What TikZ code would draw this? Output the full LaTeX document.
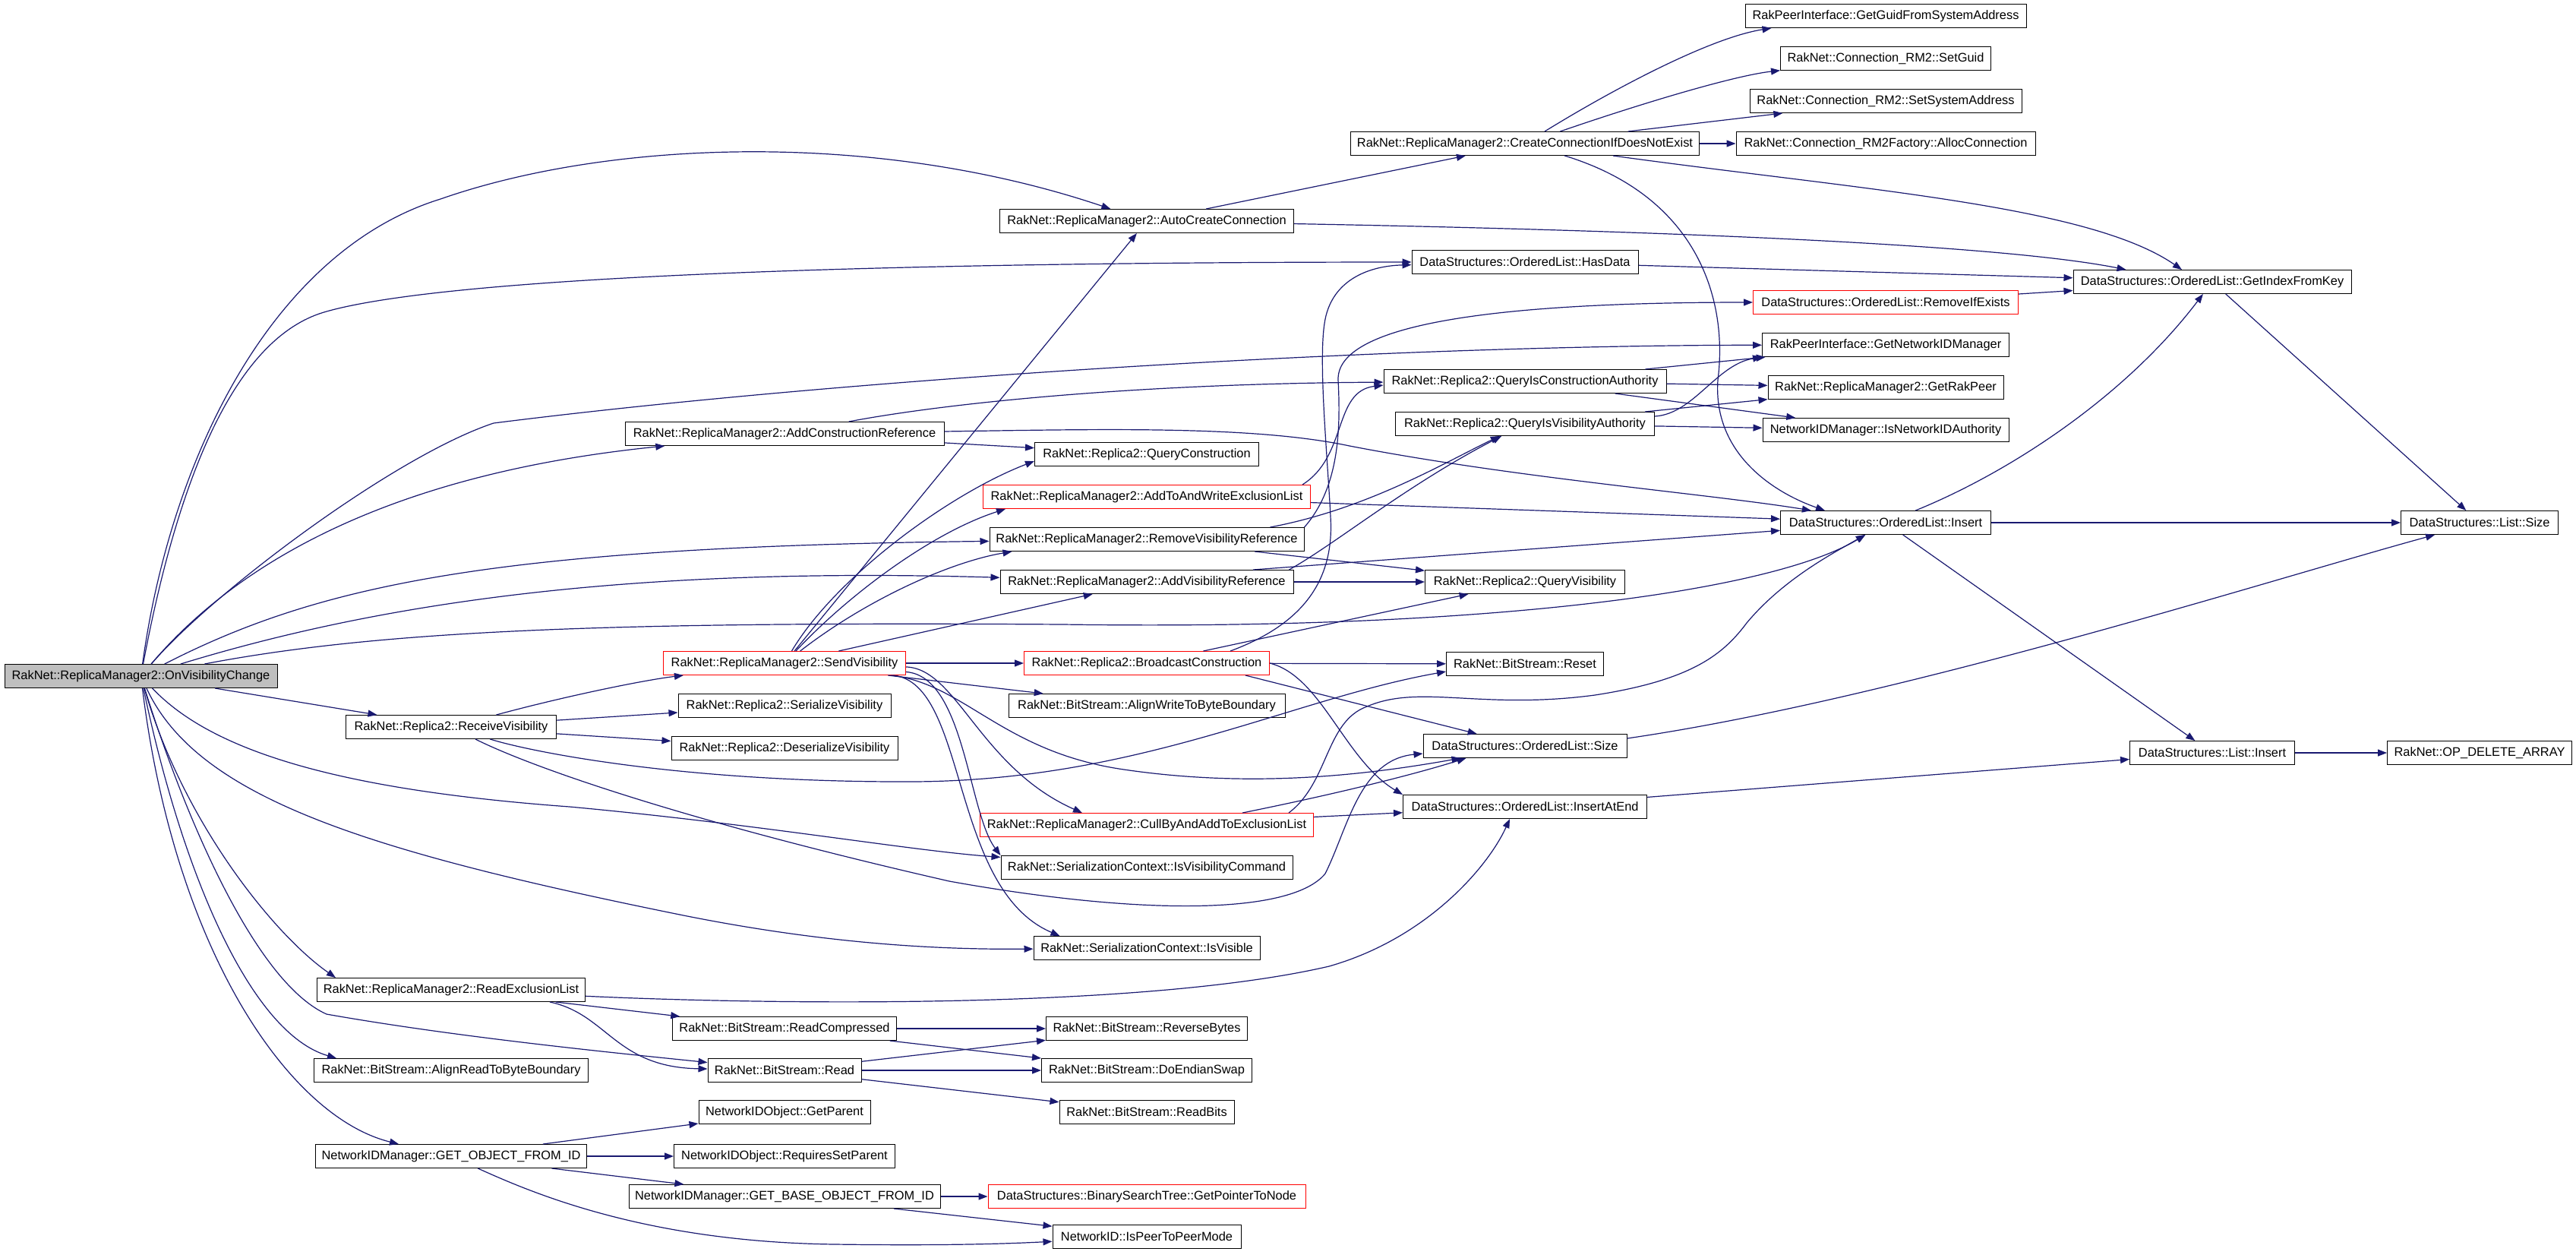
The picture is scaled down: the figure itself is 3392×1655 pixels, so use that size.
\documentclass[tikz,border=0pt]{standalone}
\usepackage{fontspec}
\setmainfont{Liberation Sans}
\usetikzlibrary{arrows.meta,calc}

\definecolor{edgeblue}{HTML}{191970}
\definecolor{rootgrey}{HTML}{BFBFBF}

\tikzset{
    fn/.style={draw=black, fill=white, line width=0.5pt, inner sep=0pt,
        minimum height=15.5pt, font=\fontsize{8.2}{9}\selectfont},
    rootfn/.style={fn, fill=rootgrey},
    cutfn/.style={fn, draw=red},
    call/.style={draw=edgeblue, line width=0.6pt, -{Triangle[length=6pt,width=4.5pt]}}
}

% one box of the call graph: style, name, x, y, width (px), label
\newcommand{\callnode}[6]{
    \node[#1, minimum width=#5*0.5pt] (#2) at (#3,#4) {#6};
}

\begin{document}
\begin{tikzpicture}[x=0.5pt, y=-0.5pt]
    \useasboundingbox (0,0) rectangle (3392,1655);

    % Root
    \callnode{rootfn}{ovc}{185.5}{890}{359}{RakNet::ReplicaManager2::OnVisibilityChange}

    % First column of callees
    \callnode{fn}{recv}{594}{957}{277}{RakNet::Replica2::ReceiveVisibility}
    \callnode{fn}{rexcl}{594}{1303}{353}{RakNet::ReplicaManager2::ReadExclusionList}
    \callnode{fn}{alignread}{594}{1409}{361}{RakNet::BitStream::AlignReadToByteBoundary}
    \callnode{fn}{getobj}{594}{1522}{357}{NetworkIDManager::GET\_OBJECT\_FROM\_ID}

    % Second column
    \callnode{fn}{addcons}{1033}{571}{420}{RakNet::ReplicaManager2::AddConstructionReference}
    \callnode{cutfn}{sendvis}{1033}{873}{319}{RakNet::ReplicaManager2::SendVisibility}
    \callnode{fn}{servis}{1033}{929}{280}{RakNet::Replica2::SerializeVisibility}
    \callnode{fn}{deservis}{1033}{985}{298}{RakNet::Replica2::DeserializeVisibility}
    \callnode{fn}{readcomp}{1033}{1354}{295}{RakNet::BitStream::ReadCompressed}
    \callnode{fn}{read}{1033}{1409}{202}{RakNet::BitStream::Read}
    \callnode{fn}{getparent}{1033}{1464}{226}{NetworkIDObject::GetParent}
    \callnode{fn}{reqparent}{1033}{1522}{291}{NetworkIDObject::RequiresSetParent}
    \callnode{fn}{getbase}{1033}{1575}{410}{NetworkIDManager::GET\_BASE\_OBJECT\_FROM\_ID}

    % Third column
    \callnode{fn}{autocc}{1510}{291}{387}{RakNet::ReplicaManager2::AutoCreateConnection}
    \callnode{fn}{querycons}{1510}{598}{295}{RakNet::Replica2::QueryConstruction}
    \callnode{cutfn}{addtoexcl}{1510}{654}{431}{RakNet::ReplicaManager2::AddToAndWriteExclusionList}
    \callnode{fn}{remvis}{1510}{710}{414}{RakNet::ReplicaManager2::RemoveVisibilityReference}
    \callnode{fn}{addvis}{1510}{766}{386}{RakNet::ReplicaManager2::AddVisibilityReference}
    \callnode{cutfn}{broadcast}{1510}{873}{323}{RakNet::Replica2::BroadcastConstruction}
    \callnode{fn}{alignwrite}{1510}{929}{364}{RakNet::BitStream::AlignWriteToByteBoundary}
    \callnode{cutfn}{cullby}{1510}{1086}{439}{RakNet::ReplicaManager2::CullByAndAddToExclusionList}
    \callnode{fn}{isviscmd}{1510}{1142}{384}{RakNet::SerializationContext::IsVisibilityCommand}
    \callnode{fn}{isvisible}{1510}{1248}{298}{RakNet::SerializationContext::IsVisible}
    \callnode{fn}{revbytes}{1510}{1354}{265}{RakNet::BitStream::ReverseBytes}
    \callnode{fn}{endian}{1510}{1409}{277}{RakNet::BitStream::DoEndianSwap}
    \callnode{fn}{readbits}{1510}{1464}{230}{RakNet::BitStream::ReadBits}
    \callnode{cutfn}{getptr}{1510}{1575}{418}{DataStructures::BinarySearchTree::GetPointerToNode}
    \callnode{fn}{ptop}{1510}{1628}{248}{NetworkID::IsPeerToPeerMode}

    % Fourth column
    \callnode{fn}{createconn}{2008}{189}{459}{RakNet::ReplicaManager2::CreateConnectionIfDoesNotExist}
    \callnode{fn}{hasdata}{2008}{345}{298}{DataStructures::OrderedList::HasData}
    \callnode{fn}{qica}{2008}{502}{372}{RakNet::Replica2::QueryIsConstructionAuthority}
    \callnode{fn}{qiva}{2008}{558}{341}{RakNet::Replica2::QueryIsVisibilityAuthority}
    \callnode{fn}{queryvis}{2008}{766}{263}{RakNet::Replica2::QueryVisibility}
    \callnode{fn}{reset}{2008}{874}{207}{RakNet::BitStream::Reset}
    \callnode{fn}{olsize}{2008}{982}{268}{DataStructures::OrderedList::Size}
    \callnode{fn}{insertend}{2008}{1062}{321}{DataStructures::OrderedList::InsertAtEnd}

    % Fifth column
    \callnode{fn}{getguid}{2483}{21}{370}{RakPeerInterface::GetGuidFromSystemAddress}
    \callnode{fn}{setguid}{2483}{77}{277}{RakNet::Connection\_RM2::SetGuid}
    \callnode{fn}{setsys}{2483}{133}{358}{RakNet::Connection\_RM2::SetSystemAddress}
    \callnode{fn}{alloc}{2483}{189}{394}{RakNet::Connection\_RM2Factory::AllocConnection}
    \callnode{cutfn}{remifex}{2483}{398}{349}{DataStructures::OrderedList::RemoveIfExists}
    \callnode{fn}{getnidm}{2483}{454}{325}{RakPeerInterface::GetNetworkIDManager}
    \callnode{fn}{getrakpeer}{2483}{510}{310}{RakNet::ReplicaManager2::GetRakPeer}
    \callnode{fn}{isnidauth}{2483}{566}{324}{NetworkIDManager::IsNetworkIDAuthority}
    \callnode{fn}{olinsert}{2483}{688}{277}{DataStructures::OrderedList::Insert}

    % Last columns
    \callnode{fn}{getindex}{2913}{371}{366}{DataStructures::OrderedList::GetIndexFromKey}
    \callnode{fn}{linsert}{2913}{991}{217}{DataStructures::List::Insert}
    \callnode{fn}{lsize}{3265}{688}{207}{DataStructures::List::Size}
    \callnode{fn}{opdel}{3265}{991}{243}{RakNet::OP\_DELETE\_ARRAY}

    % Calls made by OnVisibilityChange
    \draw[call] (ovc) .. controls (225,600) and (360,330) .. (580,262) .. controls (800,185) and (1150,170) .. (autocc);
    \draw[call] (ovc) .. controls (240,600) and (320,440) .. (430,410) .. controls (600,362) and (1200,345) .. (hasdata);
    \draw[call] (ovc) .. controls (280,780) and (520,600) .. (650,557) .. controls (1100,500) and (1800,455) .. (getnidm);
    \draw[call] (ovc) .. controls (330,720) and (550,620) .. (addcons);
    \draw[call] (ovc) .. controls (420,770) and (650,720) .. (remvis);
    \draw[call] (ovc) .. controls (480,800) and (800,745) .. (addvis);
    \draw[call] (ovc) .. controls (500,830) and (800,818) .. (1400,822) .. controls (1950,830) and (2330,780) .. (olinsert);
    \draw[call] (ovc) -- (recv);
    \draw[call] (ovc) .. controls (280,990) and (450,1040) .. (750,1062) .. controls (1000,1085) and (1200,1120) .. (isviscmd);
    \draw[call] (ovc) .. controls (260,1050) and (480,1120) .. (900,1205) .. controls (1100,1245) and (1250,1250) .. (isvisible);
    \draw[call] (ovc) .. controls (240,1080) and (360,1230) .. ($(rexcl.north west)+(25,0)$);
    \draw[call] (ovc) .. controls (235,1050) and (330,1290) .. (430,1335) .. controls (600,1365) and (800,1385) .. (read);
    \draw[call] (ovc) .. controls (240,1150) and (330,1360) .. ($(alignread.north west)+(30,0)$);
    \draw[call] (ovc) .. controls (230,1250) and (380,1470) .. ($(getobj.north west)+(110,0)$);

    % First column calls
    \draw[call] (recv) .. controls (750,915) and (850,895) .. (sendvis);
    \draw[call] (recv) -- (servis);
    \draw[call] (recv) -- (deservis);
    \draw[call] (recv) .. controls (700,990) and (900,1030) .. (1200,1029) .. controls (1500,1028) and (1700,920) .. ($(reset.west)+(0,10)$);
    \draw[call] (recv) .. controls (700,1010) and (900,1080) .. (1250,1160) .. controls (1500,1205) and (1700,1205) .. (1745,1150) .. controls (1775,1090) and (1790,1000) .. ($(olsize.west)+(0,10)$);
    \draw[call] (rexcl) .. controls (1000,1322) and (1500,1330) .. (1750,1272) .. controls (1880,1235) and (1960,1140) .. ($(insertend.south)+(-20,0)$);
    \draw[call] (rexcl) -- (readcomp);
    \draw[call] ($(rexcl.south)+(130,0)$) .. controls (800,1335) and (810,1405) .. ($(read.west)+(0,-2)$);
    \draw[call] (getobj) -- (getparent);
    \draw[call] (getobj) -- (reqparent);
    \draw[call] (getobj) -- (getbase);
    \draw[call] (getobj) .. controls (700,1570) and (850,1635) .. (1100,1638) .. controls (1250,1640) and (1330,1637) .. (ptop);

    % Second column calls
    \draw[call] (addcons) .. controls (1250,530) and (1500,505) .. (qica);
    \draw[call] (addcons) -- (querycons);
    \draw[call] (addcons) .. controls (1450,565) and (1650,560) .. (1777,587) .. controls (2000,630) and (2250,650) .. (olinsert);
    \draw[call] (sendvis) -- (autocc);
    \draw[call] (sendvis) .. controls (1100,760) and (1250,650) .. ($(querycons.south west)+(0,-7)$);
    \draw[call] (sendvis) .. controls (1120,780) and (1230,700) .. ($(addtoexcl.south west)+(30,0)$);
    \draw[call] (sendvis) .. controls (1140,790) and (1250,740) .. ($(remvis.south west)+(30,0)$);
    \draw[call] (sendvis) -- (addvis);
    \draw[call] (sendvis) -- (broadcast);
    \draw[call] (sendvis) -- (alignwrite);
    \draw[call] (sendvis) .. controls (1260,880) and (1290,1010) .. ($(cullby.north)+(-85,0)$);
    \draw[call] (sendvis) .. controls (1270,890) and (1275,1070) .. (isviscmd.north west);
    \draw[call] (sendvis) .. controls (1275,900) and (1250,1170) .. ($(isvisible.north west)+(35,0)$);
    \draw[call] (sendvis) .. controls (1270,900) and (1320,990) .. (1480,1013) .. controls (1650,1038) and (1800,1020) .. ($(olsize.south west)+(50,0)$);
    \draw[call] (readcomp) -- (revbytes);
    \draw[call] (readcomp) -- (endian);
    \draw[call] (read) -- (revbytes);
    \draw[call] (read) -- (endian);
    \draw[call] (read) -- (readbits);
    \draw[call] (getbase) -- (getptr);
    \draw[call] (getbase) -- (ptop);

    % Third column calls
    \draw[call] (autocc) -- (createconn);
    \draw[call] (autocc) .. controls (2000,300) and (2600,315) .. ($(getindex.north west)+(70,0)$);
    \draw[call] ($(addtoexcl.north east)+(-11,0)$) .. controls (1775,600) and (1755,515) .. ($(qica.west)+(0,5)$);
    \draw[call] (addtoexcl) -- (olinsert);
    \draw[call] ($(remvis.north east)+(-45,0)$) .. controls (1800,670) and (1900,610) .. (qiva);
    \draw[call] (remvis) -- (queryvis);
    \draw[call] (remvis.north east) .. controls (1765,640) and (1765,560) .. (1762,500) .. controls (1760,430) and (1950,398) .. (remifex);
    \draw[call] ($(addvis.north east)+(-6,0)$) .. controls (1760,715) and (1850,640) .. (qiva);
    \draw[call] (addvis) -- (queryvis);
    \draw[call] ($(addvis.north)+(140,0)$) -- (olinsert);
    \draw[call] ($(broadcast.north)+(110,0)$) .. controls (1720,820) and (1757,760) .. (1752,680) .. controls (1748,600) and (1735,470) .. (1745,420) .. controls (1755,370) and (1800,350) .. (hasdata);
    \draw[call] (broadcast) -- (queryvis);
    \draw[call] (broadcast) -- (reset);
    \draw[call] ($(broadcast.south)+(130,0)$) -- (olsize);
    \draw[call] (broadcast.east) .. controls (1740,890) and (1770,1000) .. (insertend.north west);
    \draw[call] ($(cullby.north)+(126,0)$) .. controls (1760,1045) and (1860,1020) .. ($(olsize.south west)+(57,0)$);
    \draw[call] (cullby) -- (insertend);
    \draw[call] ($(cullby.north east)+(-33,0)$) .. controls (1750,1030) and (1745,950) .. (1800,930) .. controls (1870,900) and (1950,935) .. (2100,915) .. controls (2230,895) and (2270,860) .. (2300,820) .. controls (2350,760) and (2420,725) .. (olinsert);

    % Fourth column calls
    \draw[call] (createconn) .. controls (2120,120) and (2250,50) .. ($(getguid.south west)+(35,0)$);
    \draw[call] (createconn) .. controls (2150,140) and (2280,100) .. (setguid);
    \draw[call] (createconn) -- (setsys);
    \draw[call] (createconn) -- (alloc);
    \draw[call] (createconn) .. controls (2450,250) and (2750,270) .. ($(getindex.north)+(-40,0)$);
    \draw[call] (createconn) .. controls (2240,260) and (2275,400) .. (2262,500) .. controls (2255,600) and (2340,650) .. ($(olinsert.north)+(-80,0)$);
    \draw[call] (hasdata) -- (getindex);
    \draw[call] (qica) -- (getnidm);
    \draw[call] (qica) -- (getrakpeer);
    \draw[call] (qica) -- (isnidauth);
    \draw[call] (qiva) .. controls (2230,545) and (2260,480) .. (getnidm.south west);
    \draw[call] (qiva) -- (getrakpeer);
    \draw[call] (qiva) -- (isnidauth);
    \draw[call] ($(olsize.east)+(0,-10)$) .. controls (2500,920) and (3000,760) .. (lsize);
    \draw[call] (insertend) -- (linsert);

    % Right side
    \draw[call] (remifex) -- (getindex);
    \draw[call] (olinsert) -- (lsize);
    \draw[call] (olinsert) -- (linsert);
    \draw[call] (olinsert) .. controls (2650,620) and (2800,520) .. (getindex);
    \draw[call] (getindex) -- (lsize);
    \draw[call] (linsert) -- (opdel);
\end{tikzpicture}
\end{document}
